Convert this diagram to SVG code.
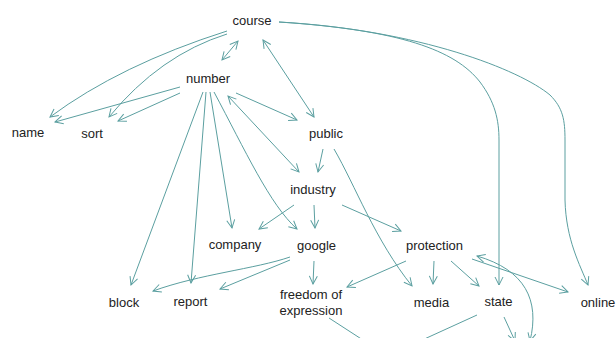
<svg xmlns="http://www.w3.org/2000/svg" width="616" height="338" viewBox="0 0 616 338">
<style>
.n text{font-family:"Liberation Sans",Arial,sans-serif;font-size:13px;fill:#222;text-anchor:middle}
.e path{fill:none;stroke:#5b9fa0;stroke-width:1}
</style>
<defs>
<marker id="a" viewBox="0 0 10 10" refX="9" refY="5" markerWidth="10" markerHeight="10" markerUnits="userSpaceOnUse" orient="auto-start-reverse">
<path d="M1,1 L9,5 L1,9" fill="none" stroke="#5b9fa0" stroke-width="1"/>
</marker>
</defs>
<rect width="616" height="338" fill="#fff"/>
<g class="e" id="edges">
<path d="M227,31 Q120,65 50,117" marker-end="url(#a)"/>
<path d="M227,34 Q160,55 109,117" marker-end="url(#a)"/>
<path d="M238,41 L222,60" marker-start="url(#a)" marker-end="url(#a)"/>
<path d="M263,40 L314,117" marker-start="url(#a)" marker-end="url(#a)"/>
<path d="M279,22 C400,30 455,50 480,82 C495,102 499,120 499,140 L499,285" marker-end="url(#a)"/>
<path d="M279,22 C420,30 520,70 550,95 C563,108 565,120 565,140 L565,200 C566,240 580,265 588,285" marker-end="url(#a)"/>
<path d="M180,87 L55,122" marker-end="url(#a)"/>
<path d="M180,93 L118,121" marker-end="url(#a)"/>
<path d="M203,92 L131,285" marker-end="url(#a)"/>
<path d="M206,92 L191,283" marker-end="url(#a)"/>
<path d="M210,92 L232,228" marker-end="url(#a)"/>
<path d="M214,92 C245,150 270,205 297,229" marker-end="url(#a)"/>
<path d="M228,96 L299,172" marker-start="url(#a)" marker-end="url(#a)"/>
<path d="M236,93 L297,120" marker-end="url(#a)"/>
<path d="M323,149 L318,172" marker-end="url(#a)"/>
<path d="M334,149 C355,185 375,240 412,286" marker-end="url(#a)"/>
<path d="M294,205 L259,229" marker-end="url(#a)"/>
<path d="M314,205 L315,228" marker-end="url(#a)"/>
<path d="M342,205 L401,231" marker-end="url(#a)"/>
<path d="M290,257 C255,269 200,274 153,291" marker-end="url(#a)"/>
<path d="M290,260 L220,289" marker-end="url(#a)"/>
<path d="M314,261 L313,284" marker-end="url(#a)"/>
<path d="M406,261 L347,287" marker-end="url(#a)"/>
<path d="M434,261 L433,284" marker-end="url(#a)"/>
<path d="M451,261 L479,286" marker-end="url(#a)"/>
<path d="M472,259 L568,292" marker-end="url(#a)"/>
<path d="M477,256 C525,270 540,300 530,341" marker-start="url(#a)" marker-end="url(#a)"/>
<path d="M504,317 L515,341" marker-end="url(#a)"/>
<path d="M329,318 L366,342"/>
<path d="M477,315 L420,341"/>
</g>
<g class="n" id="course"><text x="252" y="25">course</text></g>
<g class="n" id="number"><text x="208" y="83">number</text></g>
<g class="n" id="name"><text x="28" y="137">name</text></g>
<g class="n" id="sort"><text x="92" y="138">sort</text></g>
<g class="n" id="public"><text x="326" y="138">public</text></g>
<g class="n" id="industry"><text x="313" y="194">industry</text></g>
<g class="n" id="company"><text x="235" y="249">company</text></g>
<g class="n" id="google"><text x="316.5" y="250">google</text></g>
<g class="n" id="protection"><text x="434.5" y="250">protection</text></g>
<g class="n" id="block"><text x="124" y="307">block</text></g>
<g class="n" id="report"><text x="190.5" y="306">report</text></g>
<g class="n" id="freedom-of-expression"><text x="311" y="299">freedom of</text><text x="311" y="315">expression</text></g>
<g class="n" id="media"><text x="431.5" y="307">media</text></g>
<g class="n" id="state"><text x="498.5" y="306">state</text></g>
<g class="n" id="online"><text x="598" y="307">online</text></g>
</svg>
